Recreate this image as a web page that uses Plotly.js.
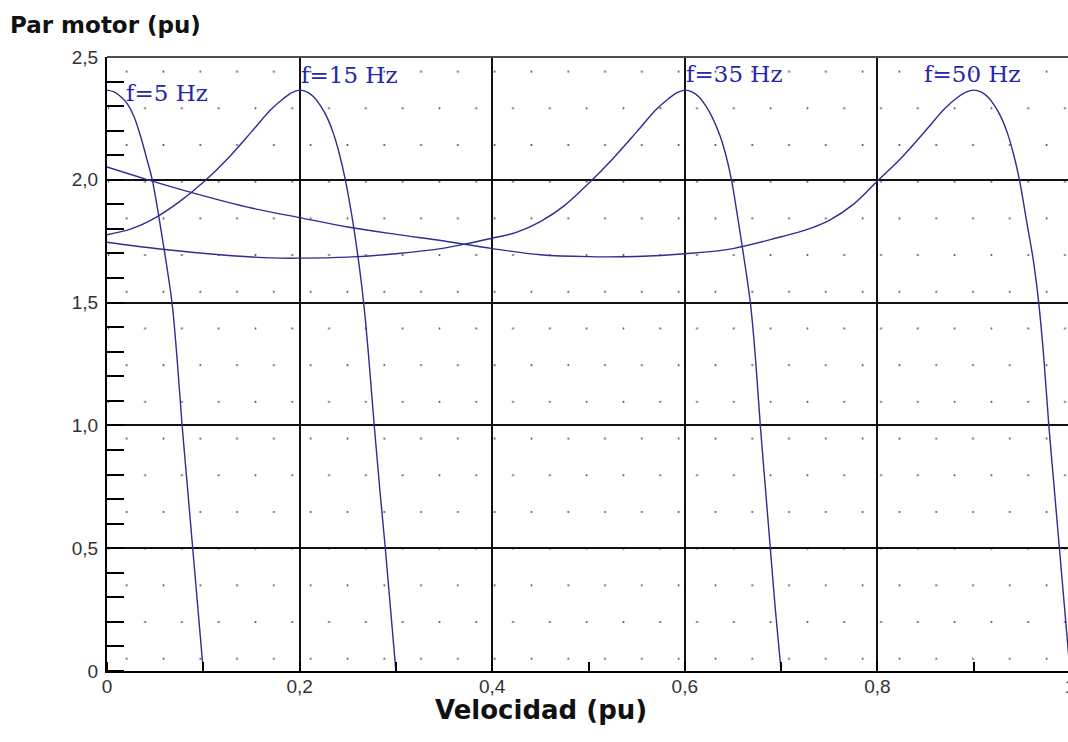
<!DOCTYPE html>
<html>
<head>
<meta charset="utf-8">
<script src="https://cdn.plot.ly/plotly-3.0.1.min.js"></script>
<style>
  html, body { margin: 0; padding: 0; background: #fff; overflow: hidden; width: 1068px; height: 742px; }
  /* faint dotted texture behind the plotting area */
  #dots {
    position: absolute; left: 108px; top: 59px; width: 960px; height: 610px;
    background-image:
      radial-gradient(circle, rgba(70,70,70,0.9) 0.7px, rgba(255,255,255,0) 1.3px),
      radial-gradient(circle, rgba(70,70,70,0.9) 0.7px, rgba(255,255,255,0) 1.3px);
    background-size: 36.8px 73.4px, 36.8px 73.4px;
    background-position: 0.3px 49.3px, 18.7px 12.6px;
  }
  #chart { position: absolute; left: 0; top: 0; }
</style>
</head>
<body>
<div id="dots"></div>
<div id="chart"></div>
<script>
// Torque-speed curves of an induction motor fed at constant V/f
const speed5  = [0, 0.008, 0.015, 0.021, 0.028, 0.035, 0.041, 0.047, 0.053, 0.06, 0.0675, 0.073, 0.078, 0.0835, 0.089, 0.0945, 0.1];
const torque5 = [2.365, 2.357, 2.336, 2.31, 2.258, 2.175, 2.09, 2.00, 1.87, 1.70, 1.50, 1.26, 1.00, 0.75, 0.50, 0.25, 0];

const speed15  = [0, 0.025, 0.05, 0.075, 0.1, 0.125, 0.15, 0.17, 0.183, 0.192, 0.2, 0.208, 0.215, 0.222, 0.229, 0.235, 0.241, 0.2475, 0.254, 0.2605, 0.2665, 0.2715, 0.2775, 0.2835, 0.289, 0.2945, 0.3];
const torque15 = [1.776, 1.80, 1.845, 1.91, 1.99, 2.085, 2.195, 2.285, 2.33, 2.355, 2.365, 2.357, 2.336, 2.30, 2.25, 2.19, 2.11, 2.00, 1.86, 1.69, 1.50, 1.29, 1.00, 0.73, 0.50, 0.25, 0];

const speed35  = [0, 0.06, 0.12, 0.17, 0.2, 0.25, 0.3, 0.35, 0.37, 0.4, 0.425, 0.45, 0.475, 0.5, 0.525, 0.55, 0.57, 0.583, 0.592, 0.6, 0.608, 0.615, 0.622, 0.629, 0.636, 0.642, 0.6485, 0.654, 0.6595, 0.6682, 0.6734, 0.6785, 0.6837, 0.6889, 0.6941, 0.7];
const torque35 = [1.746, 1.716, 1.694, 1.682, 1.681, 1.685, 1.699, 1.722, 1.737, 1.762, 1.786, 1.83, 1.895, 1.985, 2.085, 2.195, 2.285, 2.33, 2.355, 2.365, 2.357, 2.336, 2.30, 2.25, 2.185, 2.11, 2.00, 1.87, 1.732, 1.495, 1.273, 0.995, 0.745, 0.495, 0.248, 0];

const speed50  = [0, 0.04, 0.09, 0.15, 0.2, 0.25, 0.3, 0.35, 0.4, 0.45, 0.5, 0.55, 0.6, 0.65, 0.7, 0.725, 0.75, 0.775, 0.8, 0.825, 0.85, 0.87, 0.883, 0.892, 0.9, 0.908, 0.915, 0.922, 0.929, 0.935, 0.941, 0.9475, 0.955, 0.962, 0.9675, 0.9725, 0.978, 0.9835, 0.989, 0.9945, 1.0];
const torque50 = [2.052, 2.003, 1.946, 1.885, 1.846, 1.808, 1.778, 1.751, 1.72, 1.695, 1.687, 1.688, 1.699, 1.72, 1.768, 1.795, 1.835, 1.90, 1.995, 2.09, 2.20, 2.29, 2.335, 2.357, 2.365, 2.357, 2.336, 2.30, 2.25, 2.19, 2.11, 2.00, 1.83, 1.67, 1.50, 1.29, 1.00, 0.75, 0.50, 0.25, 0];

const curveNames = ['f=5 Hz', 'f=15 Hz', 'f=35 Hz', 'f=50 Hz'];

const xTickVals = [0, 0.2, 0.4, 0.6, 0.8, 1];
const xTickText = ['0', '0,2', '0,4', '0,6', '0,8', '1'];
const yTickVals = [0, 0.5, 1, 1.5, 2, 2.5];
const yTickText = ['0', '0,5', '1,0', '1,5', '2,0', '2,5'];

const curveColor = '#2d2d92';
const series = [[speed5, torque5], [speed15, torque15], [speed35, torque35], [speed50, torque50]];
const traces = series.map((s, i) => ({
  type: 'scatter', mode: 'lines', name: curveNames[i],
  x: s[0], y: s[1],
  line: { color: curveColor, width: 1.4, shape: 'spline', smoothing: 1 },
  hoverinfo: 'skip'
}));

const tickFont = { family: 'Liberation Sans, Arial, sans-serif', size: 19, color: '#333' };
const labelFont = { family: 'DejaVu Serif, serif', size: 23, color: '#2626aa' };

// curve captions placed just above each torque peak
const captions = [
  { text: curveNames[0], x: 0.018, y: 2.355 },
  { text: curveNames[1], x: 0.199, y: 2.428 },
  { text: curveNames[2], x: 0.599, y: 2.432 },
  { text: curveNames[3], x: 0.846, y: 2.432 }
].map(c => ({
  text: c.text, x: c.x, y: c.y, xref: 'x', yref: 'y',
  xanchor: 'left', yanchor: 'middle', showarrow: false, font: labelFont
}));

const layout = {
  width: 1080, height: 742,
  margin: { l: 107, r: 10, t: 57, b: 71 },
  paper_bgcolor: 'rgba(0,0,0,0)', plot_bgcolor: 'rgba(0,0,0,0)',
  showlegend: false,
  xaxis: {
    range: [0, 1], tickmode: 'array', tickvals: xTickVals, ticktext: xTickText,
    showgrid: true, gridcolor: '#111', gridwidth: 2, zeroline: false,
    showline: true, linecolor: '#000', linewidth: 2, ticks: '',
    tickfont: tickFont, ticklabelstandoff: -3,
    minor: { dtick: 0.1, tick0: 0, ticks: 'inside', ticklen: 9, tickwidth: 2, tickcolor: '#000', showgrid: false }
  },
  yaxis: {
    range: [0, 2.5], tickmode: 'array', tickvals: yTickVals, ticktext: yTickText,
    showgrid: true, gridcolor: '#111', gridwidth: 2, zeroline: false,
    showline: true, linecolor: '#000', linewidth: 2, ticks: '',
    tickfont: tickFont, ticklabelstandoff: 3,
    minor: { dtick: 0.1, tick0: 0, ticks: 'inside', ticklen: 17, tickwidth: 2, tickcolor: '#000', showgrid: false }
  },
  shapes: [
    { type: 'line', xref: 'paper', yref: 'paper', x0: 0, x1: 1, y0: 1, y1: 1,
      line: { color: '#4d4d4d', width: 2 } }
  ],
  annotations: captions.concat([
    { text: 'Par motor (pu)', xref: 'paper', yref: 'paper', x: -0.1028, y: 1.0521,
      xanchor: 'left', yanchor: 'middle', showarrow: false,
      font: { family: 'DejaVu Sans, sans-serif', size: 23, color: '#111', weight: 'bold' } },
    { text: 'Velocidad (pu)', xref: 'paper', yref: 'paper', x: 0.4507, y: -0.0635,
      xanchor: 'center', yanchor: 'middle', showarrow: false,
      font: { family: 'DejaVu Sans, sans-serif', size: 26, color: '#111', weight: 'bold' } }
  ])
};

Plotly.newPlot('chart', traces, layout, { staticPlot: true, displayModeBar: false });
</script>
</body>
</html>
